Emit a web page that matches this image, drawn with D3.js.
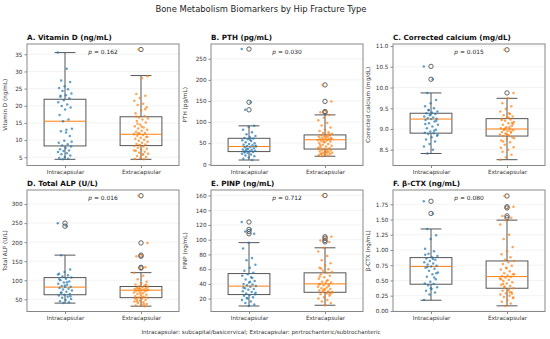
<!DOCTYPE html>
<html>
<head>
<meta charset="utf-8">
<script src="https://cdn.jsdelivr.net/npm/d3@7"></script>
<style>
  body { margin: 0; background: #fff; }
  text { font-family: "DejaVu Sans", sans-serif; }
</style>
</head>
<body>
<div id="chart"></div>
<script>
// Groups and panel labels
const groups = ["Intracapsular", "Extracapsular"];
const panelTitles = ["A. Vitamin D (ng/mL)", "B. PTH (pg/mL)", "C. Corrected calcium (mg/dL)",
                     "D. Total ALP (U/L)", "E. PINP (ng/mL)", "F. β-CTX (ng/mL)"];
const yLabels = ["Vitamin D (ng/mL)", "PTH (pg/mL)", "Corrected calcium (mg/dL)",
                 "Total ALP (U/L)", "PINP (ng/mL)", "β-CTX (ng/mL)"];
const pValues = ["0.162", "0.030", "0.015", "0.016", "0.712", "0.080"];

// Axis ranges and ticks
const yDomains = [[2.6, 38.0], [-3, 285], [8.12, 11.05], [18, 337], [2.5, 167.5], [-0.01, 1.985]];
const vitDTicks = [5, 10, 15, 20, 25, 30, 35];
const pthTicks = [0, 50, 100, 150, 200, 250];
const caTicks = [8.5, 9.0, 9.5, 10.0, 10.5, 11.0];
const alpTicks = [50, 100, 150, 200, 250, 300];
const pinpTicks = [20, 40, 60, 80, 100, 120, 140, 160];
const ctxTicks = [0, 0.25, 0.5, 0.75, 1.0, 1.25, 1.5, 1.75];

// Box stats per group: [low whisker, Q1, median, Q3, high whisker]
const vitDBoxes = [[4.4, 8.3, 15.5, 21.9, 35.5], [4.4, 8.4, 11.7, 16.8, 28.8]];
const pthBoxes = [[10, 30, 42, 61.5, 91], [19, 36, 58, 69.5, 117]];
const caBoxes = [[8.41, 8.90, 9.24, 9.38, 9.87], [8.26, 8.83, 9.00, 9.25, 9.74]];
const alpBoxes = [[40, 62, 82, 107, 166], [32, 54.4, 74, 83.6, 120]];
const pinpBoxes = [[10, 25.5, 37, 54, 96], [11, 28.6, 40, 55, 89]];
const ctxBoxes = [[0.175, 0.438, 0.73, 0.875, 1.345], [0.083, 0.372, 0.563, 0.82, 1.49]];

// Outliers per group
const vitDOutliers = [[], [36.4]];
const pthOutliers = [[273, 147, 129], [188, 149, 125, 123]];
const caOutliers = [[10.51, 10.20], [10.91, 9.87]];
const alpOutliers = [[250, 242], [322, 198, 166, 163, 134, 132]];
const pinpOutliers = [[124, 114, 111, 108], [160, 104, 102, 99, 97]];
const ctxOutliers = [[1.80, 1.60], [1.887, 1.71, 1.69, 1.56, 1.53]];

// Individual observations
const vitDIntra = [35.5, 30.8, 27.4, 26.9, 25.7, 25.2, 24.8, 24.3, 23.6, 23.1, 22.6, 22.2, 21.6, 21.0, 20.4,
  19.9, 19.5, 18.9, 17.3, 16.0, 15.5, 13.3, 13.0, 12.6, 11.2, 9.8, 9.2, 8.8, 8.4, 8.1, 7.7, 7.3, 7.0, 6.8,
  6.5, 6.2, 5.9, 5.5, 5.1, 4.8, 4.6, 4.4, 9.5, 12.2, 22.9];
const vitDExtra = [36.4, 28.6, 28.0, 23.4, 22.9, 22.3, 21.5, 20.6, 20.2, 19.6, 18.6, 17.8, 17.0, 16.6, 16.3,
  16.0, 15.6, 15.1, 14.5, 14.0, 13.7, 13.4, 13.0, 12.7, 12.4, 12.1, 11.9, 11.7, 11.5, 11.3, 11.0, 10.7, 10.4,
  10.1, 9.8, 9.5, 9.2, 8.9, 8.7, 8.5, 8.3, 8.1, 7.8, 7.5, 7.2, 6.9, 6.6, 6.3, 6.0, 5.7, 5.4, 5.1, 4.8, 4.5,
  4.4, 12.0, 10.9, 13.9, 16.9, 19.0, 8.6, 7.0, 5.9, 14.8];
const pthIntra = [273, 147, 129, 91, 88, 82, 76, 71, 67, 64, 62, 61, 59, 57, 55, 52, 50, 48, 46, 45, 43, 42,
  41, 40, 38, 37, 35, 34, 33, 32, 31, 30, 29, 27, 25, 23, 21, 19, 16, 13, 10, 36, 44, 58, 28];
const pthExtra = [188, 149, 125, 123, 117, 110, 104, 98, 92, 87, 82, 79, 76, 74, 72, 70, 69, 68, 66, 65, 64,
  63, 62, 61, 60, 59, 58, 57, 56, 55, 54, 52, 50, 48, 46, 44, 42, 40, 38, 37, 36, 35, 34, 33, 31, 30, 29, 28,
  27, 26, 25, 24, 23, 22, 21, 19, 60, 66, 45, 71, 53, 39, 30, 25];
const caIntra = [10.51, 10.20, 9.87, 9.70, 9.62, 9.55, 9.50, 9.46, 9.42, 9.40, 9.38, 9.36, 9.33, 9.30, 9.28,
  9.26, 9.25, 9.24, 9.22, 9.18, 9.14, 9.10, 9.06, 9.02, 8.98, 8.94, 8.91, 8.90, 8.88, 8.84, 8.80, 8.75, 8.70,
  8.64, 8.58, 8.50, 8.41, 9.20, 9.35, 9.12, 8.96, 9.45, 8.86];
const caExtra = [10.91, 9.87, 9.74, 9.62, 9.55, 9.48, 9.42, 9.38, 9.33, 9.30, 9.27, 9.25, 9.23, 9.20, 9.17,
  9.14, 9.10, 9.07, 9.04, 9.02, 9.00, 8.99, 8.97, 8.95, 8.93, 8.91, 8.89, 8.87, 8.85, 8.83, 8.80, 8.76, 8.72,
  8.68, 8.62, 8.56, 8.50, 8.45, 8.38, 8.32, 8.26, 9.05, 8.98, 9.12, 8.86, 9.22, 8.94, 9.01, 8.78, 9.28, 8.70,
  9.15, 8.88, 8.55, 9.36];
const alpIntra = [250, 242, 166, 128, 122, 117, 113, 110, 107, 104, 100, 97, 94, 91, 88, 85, 83, 82, 80, 78,
  76, 73, 70, 67, 64, 62, 60, 57, 54, 51, 48, 45, 42, 40, 115, 95, 68, 58, 86, 103];
const alpExtra = [322, 198, 166, 163, 134, 132, 120, 112, 103, 96, 92, 89, 86, 84, 83, 82, 80, 79, 78, 77, 76,
  75, 74, 73, 72, 71, 70, 68, 66, 64, 62, 60, 58, 56, 55, 54, 52, 50, 48, 46, 44, 42, 40, 38, 36, 34, 32, 79,
  75, 57, 45, 88, 65, 53, 37];
const pinpIntra = [124, 114, 111, 108, 96, 88, 75, 72, 66, 62, 58, 55, 53, 51, 49, 46, 44, 42, 40, 39, 38, 37,
  36, 34, 33, 32, 30, 29, 27, 26, 25, 24, 22, 20, 18, 16, 14, 12, 10, 35, 48, 21, 28, 43];
const pinpExtra = [160, 104, 102, 99, 97, 89, 84, 78, 72, 68, 65, 62, 60, 58, 56, 55, 53, 51, 49, 47, 45, 43,
  42, 41, 40, 39, 38, 36, 35, 34, 33, 32, 31, 30, 29, 28, 27, 26, 24, 22, 20, 18, 16, 14, 11, 50, 37, 31, 29,
  44, 61, 26, 33, 39, 28];
const ctxIntra = [1.80, 1.60, 1.345, 1.24, 1.18, 1.02, 0.98, 0.94, 0.90, 0.88, 0.86, 0.84, 0.82, 0.80, 0.78,
  0.76, 0.74, 0.73, 0.71, 0.69, 0.66, 0.63, 0.60, 0.56, 0.52, 0.48, 0.45, 0.44, 0.42, 0.39, 0.36, 0.33, 0.30,
  0.27, 0.18, 0.85, 0.72, 0.62, 0.37, 0.92, 0.55];
const ctxExtra = [1.887, 1.71, 1.69, 1.56, 1.53, 1.49, 1.42, 1.25, 1.18, 1.05, 0.98, 0.93, 0.88, 0.84, 0.82,
  0.80, 0.77, 0.74, 0.71, 0.68, 0.65, 0.62, 0.60, 0.58, 0.57, 0.56, 0.55, 0.53, 0.51, 0.49, 0.47, 0.45, 0.43,
  0.41, 0.39, 0.37, 0.35, 0.33, 0.31, 0.29, 0.27, 0.25, 0.23, 0.21, 0.18, 0.15, 0.12, 0.08, 0.60, 0.34, 0.44,
  0.28, 0.70, 0.52, 0.30, 0.40, 0.22];

const footnote = "Intracapsular: subcapital/basicervical; Extracapsular: pertrochanteric/subtrochanteric";

// Assemble panels
const panels = [
  {ticks: vitDTicks, fmt: d3.format("d"), boxes: vitDBoxes, outliers: vitDOutliers, pts: [vitDIntra, vitDExtra]},
  {ticks: pthTicks, fmt: d3.format("d"), boxes: pthBoxes, outliers: pthOutliers, pts: [pthIntra, pthExtra]},
  {ticks: caTicks, fmt: d3.format(".1f"), boxes: caBoxes, outliers: caOutliers, pts: [caIntra, caExtra]},
  {ticks: alpTicks, fmt: d3.format("d"), boxes: alpBoxes, outliers: alpOutliers, pts: [alpIntra, alpExtra]},
  {ticks: pinpTicks, fmt: d3.format("d"), boxes: pinpBoxes, outliers: pinpOutliers, pts: [pinpIntra, pinpExtra]},
  {ticks: ctxTicks, fmt: d3.format(".2f"), boxes: ctxBoxes, outliers: ctxOutliers, pts: [ctxIntra, ctxExtra]}
];
panels.forEach((p, k) => {
  p.title = panelTitles[k];
  p.ylabel = yLabels[k];
  p.pval = pValues[k];
  p.domain = yDomains[k];
});

const colors = ["#1f77b4", "#ff7f0e"];
const fs = 5.7;

const svg = d3.select("#chart")
    .append("svg")
    .attr("width", 550)
    .attr("height", 339);

// Main title
svg.append("text")
    .attr("x", 261)
    .attr("y", 12)
    .attr("text-anchor", "middle")
    .style("font-size", "8.4px")
    .style("fill", "#222")
    .text("Bone Metabolism Biomarkers by Hip Fracture Type");

const colX = [27, 211, 393];
const rowY = [44, 190];
const pw = 152, ph = 121.5;
const boxW = 0.55;

// deterministic spread of dots around the category centre
const jitter = i => (((i * 0.6180339) % 1) - 0.5) * 0.19;

panels.forEach((p, k) => {
    const g = svg.append("g")
        .attr("transform", `translate(${colX[k % 3]},${rowY[Math.floor(k / 3)]})`);

    const x = d3.scaleLinear().domain([0.5, 2.5]).range([0, pw]);
    const y = d3.scaleLinear().domain(p.domain).range([ph, 0]);

    // grid
    g.selectAll(".grid")
        .data(p.ticks)
        .enter()
        .append("line")
        .attr("x1", 0).attr("x2", pw)
        .attr("y1", d => y(d)).attr("y2", d => y(d))
        .style("stroke", "#ebebeb")
        .style("stroke-width", 0.6);

    // boxes
    p.boxes.forEach((b, gi) => {
        const c = gi + 1;
        const bg = g.append("g");
        const x0 = x(c - boxW / 2), x1 = x(c + boxW / 2);
        const cx0 = x(c - boxW / 4), cx1 = x(c + boxW / 4);
        bg.append("line").attr("x1", x(c)).attr("x2", x(c)).attr("y1", y(b[0])).attr("y2", y(b[1]));
        bg.append("line").attr("x1", x(c)).attr("x2", x(c)).attr("y1", y(b[3])).attr("y2", y(b[4]));
        bg.append("line").attr("x1", cx0).attr("x2", cx1).attr("y1", y(b[0])).attr("y2", y(b[0]));
        bg.append("line").attr("x1", cx0).attr("x2", cx1).attr("y1", y(b[4])).attr("y2", y(b[4]));
        bg.selectAll("line").style("stroke", "#555").style("stroke-width", 1);
        bg.append("rect")
            .attr("x", x0).attr("width", x1 - x0)
            .attr("y", y(b[3])).attr("height", y(b[1]) - y(b[3]))
            .style("fill", "none")
            .style("stroke", "#555")
            .style("stroke-width", 1);
        bg.append("line")
            .attr("x1", x0).attr("x2", x1)
            .attr("y1", y(b[2])).attr("y2", y(b[2]))
            .style("stroke", "#ff7f0e")
            .style("stroke-width", 1);

        // outliers
        g.selectAll(null)
            .data(p.outliers[gi])
            .enter()
            .append("circle")
            .attr("cx", x(c))
            .attr("cy", d => y(d))
            .attr("r", 2.2)
            .style("fill", "none")
            .style("stroke", "#555")
            .style("stroke-width", 0.9);
    });

    // jittered observations
    p.pts.forEach((arr, gi) => {
        g.selectAll(null)
            .data(arr)
            .enter()
            .append("circle")
            .attr("cx", (d, i) => x(gi + 1 + jitter(i + gi * 7)))
            .attr("cy", d => y(d))
            .attr("r", 1.25)
            .style("fill", colors[gi])
            .style("opacity", 0.7);
    });

    // y axis
    const ya = g.append("g")
        .call(d3.axisLeft(y).tickValues(p.ticks).tickFormat(p.fmt).tickSize(2.5).tickPadding(2));
    // x axis
    const xa = g.append("g")
        .attr("transform", `translate(0,${ph})`)
        .call(d3.axisBottom(x).tickValues([1, 2]).tickFormat(d => groups[d - 1]).tickSize(2.5).tickPadding(2));
    [ya, xa].forEach(a => {
        a.select(".domain").remove();
        a.selectAll("line").style("stroke", "#555").style("stroke-width", 0.7);
        a.selectAll("text").style("font-size", fs + "px").style("fill", "#333")
            .style("font-family", "'DejaVu Sans', sans-serif");
    });

    // frame
    g.append("rect")
        .attr("width", pw).attr("height", ph)
        .style("fill", "none")
        .style("stroke", "#888")
        .style("stroke-width", 1);

    // panel title
    g.append("text")
        .attr("x", 0)
        .attr("y", -4)
        .style("font-size", "7.2px")
        .style("font-weight", "bold")
        .style("fill", "#111")
        .text(p.title);

    // y label
    g.append("text")
        .attr("transform", `translate(${k % 3 === 0 ? -20 : (k % 3 === 1 ? -24 : -23)},${ph / 2}) rotate(-90)`)
        .attr("text-anchor", "middle")
        .style("font-size", fs + "px")
        .style("fill", "#333")
        .text(p.ylabel);

    // p value
    const pt = g.append("text")
        .attr("x", pw / 2)
        .attr("y", 9.5)
        .attr("text-anchor", "middle")
        .style("font-size", "5.9px")
        .style("fill", "#222");
    pt.append("tspan").style("font-style", "italic").text("p");
    pt.append("tspan").text(" = " + p.pval);
});

// Footnote
svg.append("text")
    .attr("x", 261)
    .attr("y", 334)
    .attr("text-anchor", "middle")
    .style("font-size", "5.6px")
    .style("fill", "#333")
    .text(footnote);
</script>
</body>
</html>
